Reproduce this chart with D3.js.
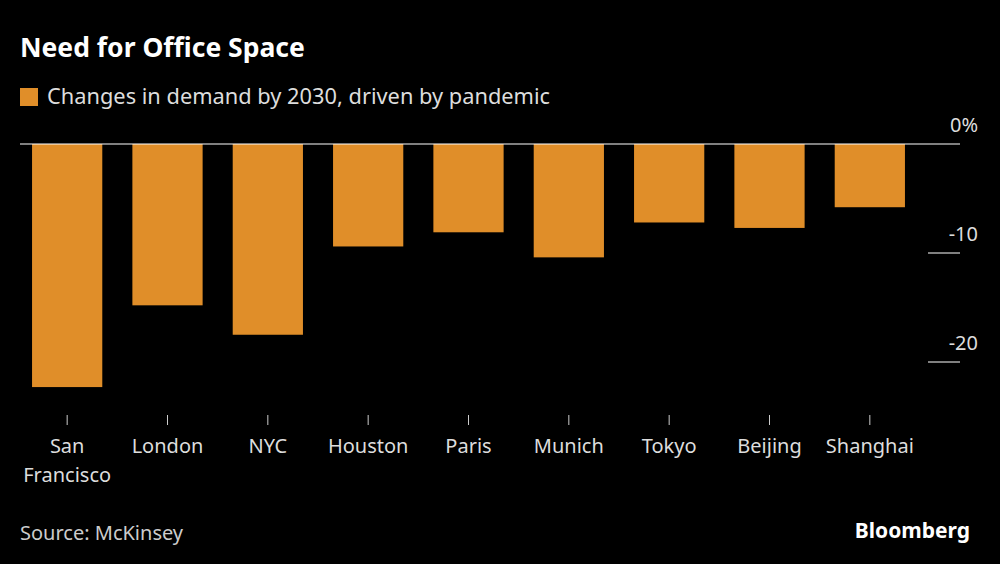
<!DOCTYPE html><html><head><meta charset="utf-8"><script src="https://cdn.jsdelivr.net/npm/d3@7"></script>
<style>body{margin:0;background:#000}text{font-family:"Source Sans Pro","Noto Sans","Open Sans",sans-serif}</style></head><body>
<svg id="c" width="1000" height="564"></svg>
<script>
const categories=["San Francisco","London","NYC","Houston","Paris","Munich","Tokyo","Beijing","Shanghai"];
const values=[-22.3,-14.8,-17.5,-9.4,-8.1,-10.4,-7.2,-7.7,-5.8];
const tickValues=[0,-10,-20];
const tickLabels=["0%","-10","-20"];
const svg=d3.select("#c");
svg.append("rect").attr("width",1000).attr("height",564).attr("fill","#000");
const x=d3.scaleBand().domain(categories).range([17,920]).paddingInner(0.3).paddingOuter(0.15);
const y=d3.scaleLinear().domain([0,-20]).range([144,362]);
const col="#e08e29";
svg.append("text").attr("x",20).attr("y",57).attr("fill","#fff").attr("font-size",26.5).attr("font-weight","bold").text("Need for Office Space");
svg.append("rect").attr("x",20).attr("y",88).attr("width",18).attr("height",18).attr("fill",col);
svg.append("text").attr("x",47).attr("y",104).attr("fill","#ddd").attr("font-size",21.8).text("Changes in demand by 2030, driven by pandemic");
svg.selectAll(".b").data(categories).enter().append("rect").attr("x",d=>x(d)).attr("width",x.bandwidth())
 .attr("y",y(0)).attr("height",(d,i)=>y(values[i])-y(0)).attr("fill",col);
svg.append("line").attr("x1",20).attr("x2",960).attr("y1",y(0)).attr("y2",y(0)).attr("stroke","#fff").attr("stroke-width",1);
tickValues.forEach((v,i)=>{
 svg.append("text").attr("x",978).attr("y",y(v)-12).attr("text-anchor","end").attr("fill","#ddd").attr("font-size",20).text(tickLabels[i]);
 if(v!==0) svg.append("line").attr("x1",928).attr("x2",960).attr("y1",y(v)).attr("y2",y(v)).attr("stroke","#fff");
});
categories.forEach(c=>{
 const cx=x(c)+x.bandwidth()/2;
 svg.append("line").attr("x1",cx).attr("x2",cx).attr("y1",415).attr("y2",425).attr("stroke","#ccc");
 const parts=c==="San Francisco"?["San","Francisco"]:[c];
 parts.forEach((p,j)=>svg.append("text").attr("x",cx).attr("y",453+j*29).attr("text-anchor","middle").attr("fill","#ddd").attr("font-size",20).text(p));
});
svg.append("text").attr("x",20).attr("y",540).attr("fill","#ccc").attr("font-size",20).text("Source: McKinsey");
svg.append("text").attr("x",970).attr("y",538).attr("text-anchor","end").attr("fill","#fff").attr("font-size",21).attr("font-weight","bold").text("Bloomberg");
</script></body></html>
